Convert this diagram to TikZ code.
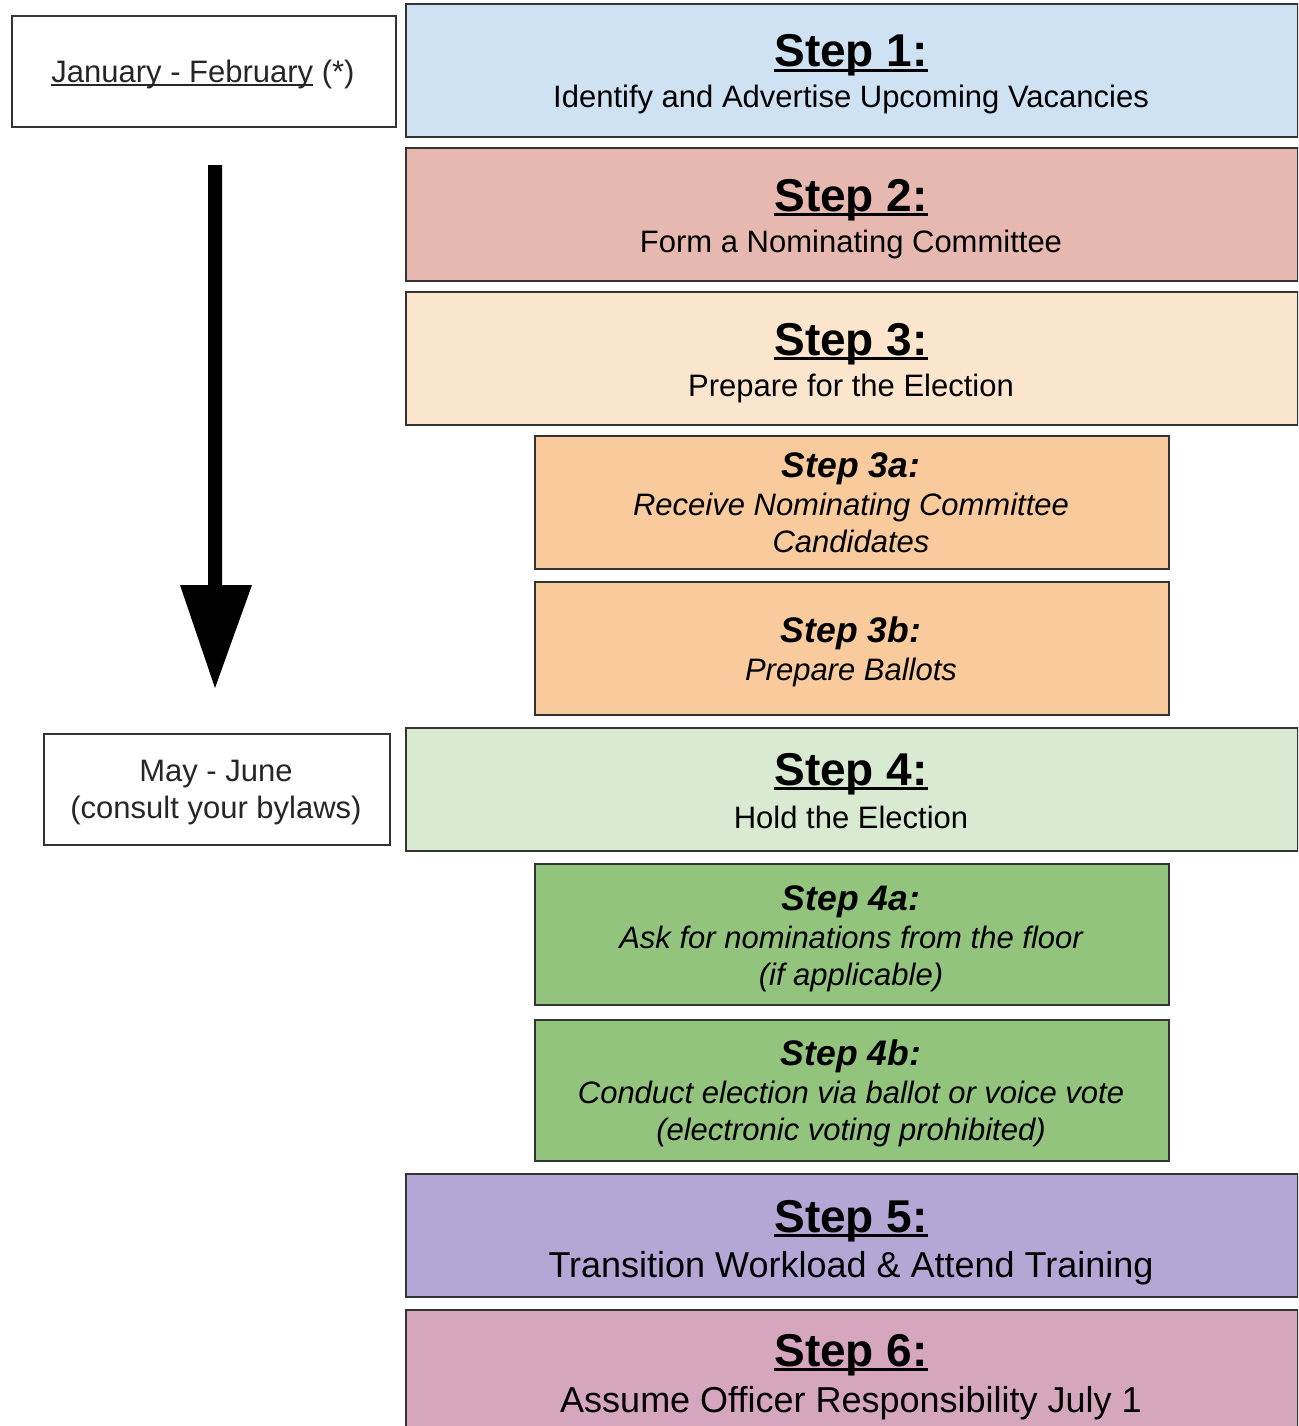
\documentclass[tikz,border=0pt]{standalone}
\usepackage{fontspec}
\setmainfont{Liberation Sans}
\usetikzlibrary{arrows.meta}
\definecolor{cOne}{HTML}{CFE2F3}
\definecolor{cTwo}{HTML}{E6B8AF}
\definecolor{cThree}{HTML}{FCE5CD}
\definecolor{cThreeSub}{HTML}{F9CB9C}
\definecolor{cFour}{HTML}{D9EAD3}
\definecolor{cFourSub}{HTML}{93C47D}
\definecolor{cFive}{HTML}{B4A7D6}
\definecolor{cSix}{HTML}{D5A6BD}
\definecolor{edge}{HTML}{333333}
\newcommand\undl[1]{\setbox0\hbox{#1}\rlap{\rule[-0.11em]{\wd0}{0.07em}}\box0\relax}
\newcommand\ttlfont{\fontsize{46}{52}\selectfont\bfseries}
\newcommand\subfont{\fontsize{31}{37}\selectfont}
\newcommand\bigsubfont{\fontsize{36}{42}\selectfont}
\newcommand\sttlfont{\fontsize{35.5}{37}\selectfont\bfseries\itshape}
\newcommand\ssubfont{\fontsize{31}{37}\selectfont\itshape}
\begin{document}
\begin{tikzpicture}[x=1pt,y=-1pt,
  panel/.style={draw=edge, line width=1.8pt, inner sep=0pt, anchor=north west},
  txt/.style={anchor=base, inner sep=0pt, align=center}]
\clip (0,0) rectangle (1298,1426);
\fill[white] (0,0) rectangle (1298,1426);
% left date boxes
\node[panel, minimum width=384pt, minimum height=111pt] (jf) at (11,15) {};
\node[txt, font=\subfont, text=black!85] (jft) at (203,83) {\undl{January - February} (*)};
\node[panel, minimum width=346pt, minimum height=111pt] (mj) at (43,733) {};
\node[txt, font=\subfont, text=black!85] (mjt) at (216,818) {May - June\\(consult your bylaws)};
% time arrow
\coordinate (atop) at (215,165);
\coordinate (abot) at (215,688);
\fill[black] (208,165) -- (222,165) -- (222,585) -- (252,585) -- (abot) -- (180,585) -- (208,585) -- cycle;
% main steps
\node[panel, fill=cOne, minimum width=892pt, minimum height=133pt] (s1) at (405,3) {};
\node[txt, font=\ttlfont] (s1a) at (851,67) {\undl{Step 1:}};
\node[txt, font=\subfont] (s1b) at (851,108) {Identify and Advertise Upcoming Vacancies};
\node[panel, fill=cTwo, minimum width=892pt, minimum height=133pt] (s2) at (405,147) {};
\node[txt, font=\ttlfont] (s2a) at (851,211) {\undl{Step 2:}};
\node[txt, font=\subfont] (s2b) at (851,252) {Form a Nominating Committee};
\node[panel, fill=cThree, minimum width=892pt, minimum height=133pt] (s3) at (405,291) {};
\node[txt, font=\ttlfont] (s3a) at (851,355) {\undl{Step 3:}};
\node[txt, font=\subfont] (s3b) at (851,396) {Prepare for the Election};
\node[panel, fill=cThreeSub, minimum width=634pt, minimum height=133pt] (s3x) at (534,435) {};
\node[txt, font=\sttlfont] (s3xa) at (851,477) {Step 3a:};
\node[txt, font=\ssubfont] (s3xb) at (851,552) {Receive Nominating Committee\\Candidates};
\node[panel, fill=cThreeSub, minimum width=634pt, minimum height=133pt] (s3y) at (534,581) {};
\node[txt, font=\sttlfont] (s3ya) at (851,642) {Step 3b:};
\node[txt, font=\ssubfont] (s3yb) at (851,680) {Prepare Ballots};
\node[panel, fill=cFour, minimum width=892pt, minimum height=123pt] (s4) at (405,727) {};
\node[txt, font=\ttlfont] (s4a) at (851,785) {\undl{Step 4:}};
\node[txt, font=\subfont] (s4b) at (851,828) {Hold the Election};
\node[panel, fill=cFourSub, minimum width=634pt, minimum height=141pt] (s4x) at (534,863) {};
\node[txt, font=\sttlfont] (s4xa) at (851,910) {Step 4a:};
\node[txt, font=\ssubfont] (s4xb) at (851,985) {Ask for nominations from the floor\\(if applicable)};
\node[panel, fill=cFourSub, minimum width=634pt, minimum height=141pt] (s4y) at (534,1019) {};
\node[txt, font=\sttlfont] (s4ya) at (851,1065) {Step 4b:};
\node[txt, font=\ssubfont] (s4yb) at (851,1140) {Conduct election via ballot or voice vote\\(electronic voting prohibited)};
\node[panel, fill=cFive, minimum width=892pt, minimum height=123pt] (s5) at (405,1173) {};
\node[txt, font=\ttlfont] (s5a) at (851,1232) {\undl{Step 5:}};
\node[txt, font=\bigsubfont] (s5b) at (851,1277) {Transition Workload \& Attend Training};
\node[panel, fill=cSix, minimum width=892pt, minimum height=160pt] (s6) at (405,1309) {};
\node[txt, font=\ttlfont] (s6a) at (851,1366) {\undl{Step 6:}};
\node[txt, font=\bigsubfont] (s6b) at (851,1412) {Assume Officer Responsibility July 1};
\end{tikzpicture}
\end{document}
